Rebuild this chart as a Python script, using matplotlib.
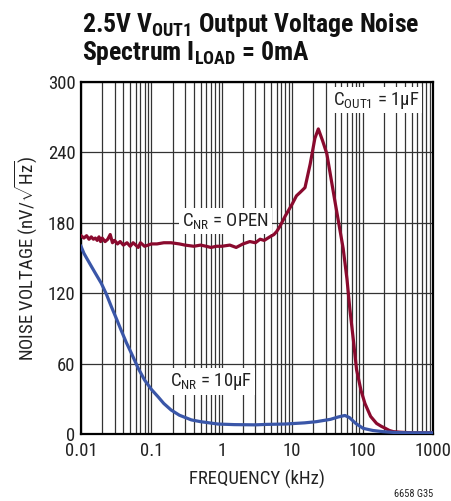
import matplotlib
matplotlib.use("Agg")
import matplotlib.pyplot as plt
import numpy as np

FONT = "Roboto Condensed"
plt.rcParams['font.family'] = [FONT, 'DejaVu Sans']
plt.rcParams['mathtext.fontset'] = 'custom'
plt.rcParams['mathtext.rm'] = FONT
plt.rcParams['mathtext.it'] = FONT
plt.rcParams['mathtext.bf'] = FONT + ':bold'

# Data (frequency in kHz, noise in nV/sqrt(Hz))
open_f = [0.010, 0.011, 0.012, 0.013, 0.014, 0.015, 0.016, 0.017, 0.018, 0.019, 0.020,
          0.022, 0.024, 0.026, 0.028, 0.030, 0.033, 0.036, 0.040, 0.045, 0.050, 0.055,
          0.060, 0.065, 0.070, 0.080, 0.090, 0.10, 0.12, 0.15, 0.19, 0.25, 0.30, 0.40,
          0.50, 0.60, 0.70, 0.84, 1.0, 1.3, 1.6, 2.0, 2.5, 3.0, 3.5, 4.0, 4.8, 5.5,
          6.0, 6.7, 8.0, 10.0, 11.5, 13.0, 15.2, 18.0, 21.0, 23.5, 27.0, 31.0, 40.0,
          53.0, 60.0, 66.0, 74.0, 82.0, 95.0, 108.0, 130.0, 158.0, 185.0, 208.0, 240.0,
          273.0, 350.0, 500.0, 700.0, 1000.0]
open_v = [169, 167, 169, 166, 168, 166, 167, 165, 168, 164, 167,
          164, 166, 170, 163, 165, 162, 164, 161, 163, 160, 163,
          161, 159, 163, 160, 161, 162, 162, 163, 163, 162, 161, 160,
          161, 160, 159, 160, 160, 161, 159, 162, 164, 163, 166, 165, 168, 170,
          172.5, 177, 186, 196, 203, 206, 210, 230, 252, 260, 250, 239, 200,
          158, 132, 106, 80, 55, 37, 26, 15, 9, 6.5, 5, 3,
          2, 1.5, 1, 1, 1]

cnr_f = [0.010, 0.011, 0.012, 0.014, 0.016, 0.0194, 0.023, 0.027, 0.032, 0.037, 0.044,
         0.052, 0.065, 0.080, 0.10, 0.124, 0.15, 0.19, 0.25, 0.37, 0.5, 0.88, 1.5,
         3.0, 4.4, 8.0, 15.0, 22.0, 35.0, 45.0, 56.0, 65.0, 80.0, 102.0, 140.0,
         195.0, 300.0, 500.0, 1000.0]
cnr_v = [160, 154, 150, 143, 137, 128.5, 119, 108.5, 98, 88.7, 78,
         68.8, 56, 46, 38, 31.8, 26, 20.5, 16, 12, 10.5, 8.5, 8,
         7.8, 8.2, 8.5, 9.5, 10.5, 12.5, 14.5, 15.8, 14, 9, 4.8, 3,
         2, 1.2, 1, 1]

xticks = [0.01, 0.1, 1, 10, 100, 1000]
xtick_labels = ["0.01", "0.1", "1", "10", "100", "1000"]
yticks = [0, 60, 120, 180, 240, 300]

RED = "#8a0a2e"
BLUE = "#3a56a8"
TXT = "#222222"

fig = plt.figure(figsize=(4.51, 5.01), dpi=100)
ax = fig.add_axes([81/451, 1-434/501, 352/451, 352/501])

ax.set_xscale('log')
ax.set_xlim(0.01, 1000)
ax.set_ylim(0, 300)

ax.plot(open_f, open_v, color=RED, lw=2.3, solid_joinstyle='round', zorder=3)
ax.plot(cnr_f, cnr_v, color=BLUE, lw=2.3, solid_joinstyle='round', zorder=3)

ax.set_xticks(xticks)
ax.set_xticklabels(xtick_labels)
ax.set_yticks(yticks)
ax.set_yticklabels([str(t) for t in yticks])
ax.xaxis.set_minor_locator(matplotlib.ticker.LogLocator(base=10, subs=np.arange(2, 10)))
ax.xaxis.set_minor_formatter(matplotlib.ticker.NullFormatter())
ax.tick_params(which='both', length=0, labelsize=13.5, colors=TXT)
ax.tick_params(axis='x', pad=6)
ax.tick_params(axis='y', pad=4)
ax.grid(True, which='both', axis='x', color='#333333', lw=0.9)
ax.grid(True, which='major', axis='y', color='#333333', lw=0.9)
ax.set_axisbelow(True)
for s in ax.spines.values():
    s.set_linewidth(1.6)
    s.set_color('black')

ax.set_xlabel("FREQUENCY (kHz)", fontsize=13.5, color=TXT, labelpad=7)
ax.set_ylabel(r"NOISE VOLTAGE (nV/$\sqrt{\mathrm{Hz}}$)", fontsize=13.5, color=TXT, labelpad=6)

bbox = dict(facecolor='white', edgecolor='none', pad=2)
ax.text(37.9, 284.5, r"C$_{\mathrm{OUT1}}$ = 1µF", fontsize=13.5, color=TXT, bbox=bbox, va='center', ha='left', zorder=4)
ax.text(1.13, 181.5, r"C$_{\mathrm{NR}}$ = OPEN", fontsize=13.5, color=TXT, bbox=bbox, va='center', ha='center', zorder=4)
ax.text(0.71, 44.5, r"C$_{\mathrm{NR}}$ = 10µF", fontsize=13.5, color=TXT, bbox=bbox, va='center', ha='center', zorder=4)

fig.text(82/451, 1-32/501, r"2.5V V$_{\mathbf{OUT1}}$ Output Voltage Noise", fontsize=18.5, fontweight='bold', color='#111111', ha='left', va='baseline')
fig.text(82/451, 1-60/501, r"Spectrum I$_{\mathbf{LOAD}}$ = 0mA", fontsize=18.5, fontweight='bold', color='#111111', ha='left', va='baseline')
fig.text(433/451, 1-497/501, "6658 G35", fontsize=7.5, color=TXT, ha='right', va='baseline')

fig.savefig("out.png", dpi=100, facecolor='white')
